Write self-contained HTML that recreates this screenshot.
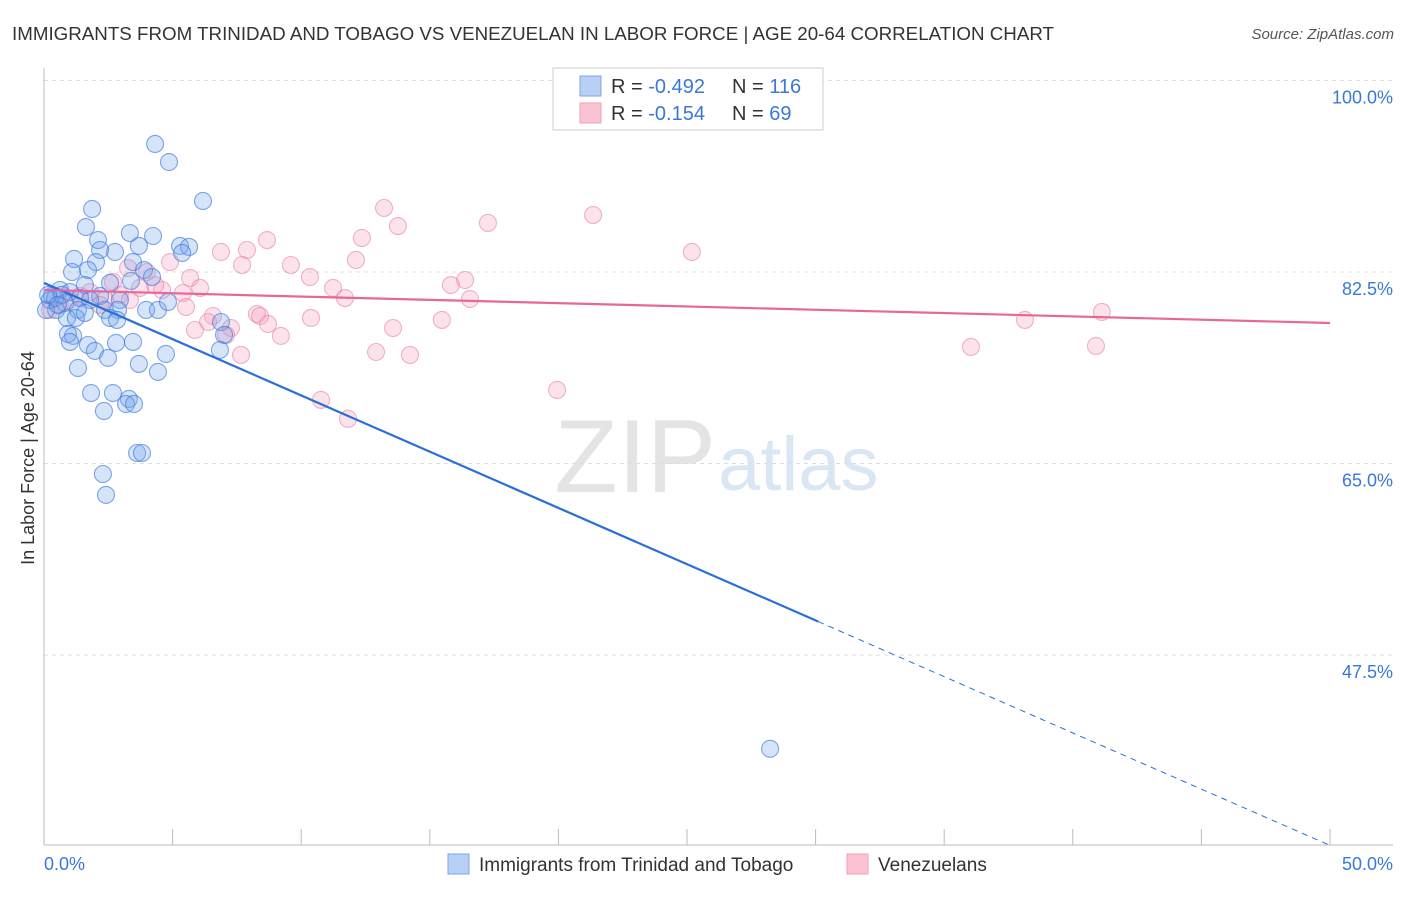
<!DOCTYPE html>
<html><head><meta charset="utf-8"><style>
body{margin:0;background:#fff;font-family:"Liberation Sans",sans-serif;}
svg text{font-family:"Liberation Sans",sans-serif;}
</style></head><body>
<svg id="chart" width="1406" height="892">
<text x="12" y="40" font-size="18" fill="#333" textLength="1042" lengthAdjust="spacingAndGlyphs">IMMIGRANTS FROM TRINIDAD AND TOBAGO VS VENEZUELAN IN LABOR FORCE | AGE 20-64 CORRELATION CHART</text>
<text x="1394" y="39" font-size="15" fill="#555" font-style="italic" text-anchor="end">Source: ZipAtlas.com</text>
<text x="716" y="492" font-size="104" fill="#e4e4e4" text-anchor="end" font-family="Liberation Serif">ZIP</text>
<text x="718" y="490" font-size="76" fill="#dbe6f4">atlas</text>
<g id="grid"></g>
<g id="axes"></g>
<g id="pts"></g>
<g id="lines"></g>
<text transform="translate(34,458) rotate(-90)" font-size="18" fill="#333" text-anchor="middle">In Labor Force | Age 20-64</text>
<text x="44" y="870" font-size="18" fill="#3a78d8">0.0%</text>
<text x="1393" y="870" font-size="18" fill="#3a78d8" text-anchor="end">50.0%</text>
<g>
<rect x="553" y="68" width="270" height="62" fill="#fff" stroke="#ccc"/>
<rect x="580" y="76" width="21" height="20" fill="#b7d0f4" stroke="#7ba6e6"/>
<rect x="580" y="103" width="21" height="20" fill="#f9c3d3" stroke="#f0a0b9"/>
<text x="611" y="93" font-size="20" fill="#333">R = <tspan fill="#3a78d8">-0.492</tspan></text>
<text x="732" y="93" font-size="20" fill="#333">N = <tspan fill="#3a78d8">116</tspan></text>
<text x="611" y="120" font-size="20" fill="#333">R =  <tspan fill="#3a78d8">-0.154</tspan></text>
<text x="732" y="120" font-size="20" fill="#333">N =  <tspan fill="#3a78d8">69</tspan></text>
</g>
<g>
<rect x="448" y="854" width="21" height="20" fill="#b7d0f4" stroke="#7ba6e6"/>
<text x="479" y="871" font-size="19" fill="#333">Immigrants from Trinidad and Tobago</text>
<rect x="847" y="854" width="21" height="20" fill="#f9c3d3" stroke="#f0a0b9"/>
<text x="878" y="871" font-size="19" fill="#333">Venezuelans</text>
</g>
</svg>
<script>
const yTicks=[100,82.5,65,47.5];
const yTickLabels=["100.0%","82.5%","65.0%","47.5%"];
const blueX=[4.32,4.86,6.18,1.87,1.63,3.34,4.24,2.10,3.69,5.29,5.64,2.76,2.18,1.17,2.02,5.37,3.46,1.71,1.09,3.89,4.20,3.38,2.57,1.59,0.62,1.01,0.31,1.40,2.18,2.95,0.82,1.79,0.47,1.32,2.37,2.88,3.97,4.43,4.82,2.57,0.89,1.24,1.59,2.84,6.88,0.93,1.13,7.00,1.01,1.71,2.80,3.46,1.98,6.84,2.49,4.74,3.69,4.43,1.32,1.83,2.68,3.30,3.19,3.50,2.33,3.62,3.81,2.29,2.41,28.23,0.23,0.08,0.43,0.70,0.16,0.54];
const blueY=[94.2,92.55,88.99,88.26,86.61,86.06,85.79,85.42,84.88,84.88,84.79,84.33,84.51,83.69,83.41,84.24,83.41,82.68,82.5,82.68,82.04,81.68,81.5,81.31,80.86,80.67,80.31,80.12,80.31,79.94,79.67,79.94,79.03,79.03,79.03,79.03,79.03,79.03,79.76,78.3,78.3,78.3,78.76,78.12,77.93,76.84,76.66,76.75,76.11,75.83,76.02,76.11,75.29,75.38,74.65,75.01,74.10,73.37,73.73,71.44,71.44,70.90,70.44,70.44,69.80,65.96,65.96,64.04,62.13,38.93,79.94,79.03,80.12,80.40,80.40,79.49];
const pinkX=[13.22,21.35,17.26,13.76,12.36,8.67,25.19,7.89,6.88,7.70,12.13,9.60,4.90,3.27,4.00,5.68,10.34,16.37,15.82,11.24,6.07,5.40,4.59,2.95,11.70,16.56,3.34,2.37,5.52,8.28,6.57,8.40,10.38,6.38,15.47,38.14,41.13,8.71,5.87,7.27,13.57,7.08,9.21,12.91,14.23,7.66,36.04,40.90,19.95,10.77,11.82,0.23,0.62,1.01,1.40,1.79,2.18,2.68,3.73,4.32];
const pinkY=[88.35,87.71,86.98,86.70,85.61,85.42,84.33,84.51,84.33,83.14,83.60,83.14,83.41,82.87,82.50,81.95,82.04,81.77,81.31,81.04,81.04,80.58,80.86,80.40,80.12,80.03,79.94,79.94,79.30,78.66,78.48,78.48,78.30,77.93,78.12,78.12,78.85,77.75,77.20,77.38,77.38,76.75,76.66,75.19,74.92,74.92,75.65,75.74,71.72,70.81,69.08,79.03,79.49,79.94,80.31,80.67,79.49,81.59,81.04,81.31];
const blueTrend=[81.5,-1.028];
const pinkTrend=[80.86,-0.0604];
const NS="http://www.w3.org/2000/svg";
const X0=44,X1=1330,Y100=80.5,PX=191.5/17.5;
function sx(v){return X0+(v/50)*(X1-X0);}
function sy(v){return Y100+(100-v)*PX;}
function mk(t,a,p){const e=document.createElementNS(NS,t);for(const k in a)e.setAttribute(k,a[k]);p.appendChild(e);return e;}
const grid=document.getElementById('grid'),axes=document.getElementById('axes'),pts=document.getElementById('pts'),lines=document.getElementById('lines');
yTicks.forEach((t,i)=>{
 const l=mk('line',{x1:44,x2:1393,y1:sy(t),y2:sy(t),stroke:'#ddd','stroke-dasharray':'4,4'},grid);
 
 
 const tx=mk('text',{x:1393,y:sy(t)+23,'font-size':18,fill:'#3a78d8','text-anchor':'end'},grid);
 tx.textContent=yTickLabels[i];
 
 
});
const ya=mk('line',{x1:44,x2:44,y1:68,y2:845,stroke:'#bbb'},axes);


const xa=mk('line',{x1:44,x2:1393,y1:845,y2:845,stroke:'#bbb'},axes);


for(let i=1;i<=10;i++){
 const tk=mk('line',{x1:sx(i*5),x2:sx(i*5),y1:829,y2:845,stroke:'#bbb'},axes);
 
 
}
function dots(xs,ys,fill,stroke,name){
 xs.forEach((x,i)=>{
  const c=mk('circle',{cx:sx(x),cy:sy(ys[i]),r:8.5,fill:fill,stroke:stroke,'stroke-width':1.1},pts);
  
  
 });
}
dots(pinkX,pinkY,'rgba(244,160,188,0.3)','rgba(232,130,165,0.6)','venezuelan-point');
dots(blueX,blueY,'rgba(120,165,235,0.3)','rgba(60,120,220,0.65)','trinidad-point');
const bSolidEnd=30.1;
const b1=mk('line',{x1:sx(0),y1:sy(blueTrend[0]),x2:sx(bSolidEnd),y2:sy(blueTrend[0]+blueTrend[1]*bSolidEnd),stroke:'#2a6fd8','stroke-width':2.2},lines);


const b2=mk('line',{x1:sx(bSolidEnd),y1:sy(blueTrend[0]+blueTrend[1]*bSolidEnd),x2:sx(50),y2:sy(blueTrend[0]+blueTrend[1]*50),stroke:'#2a6fd8','stroke-width':1,'stroke-dasharray':'6,5'},lines);


const p1=mk('line',{x1:sx(0),y1:sy(pinkTrend[0]),x2:sx(50),y2:sy(pinkTrend[0]+pinkTrend[1]*50),stroke:'#e8679a','stroke-width':2.2},lines);


</script>
</body></html>
